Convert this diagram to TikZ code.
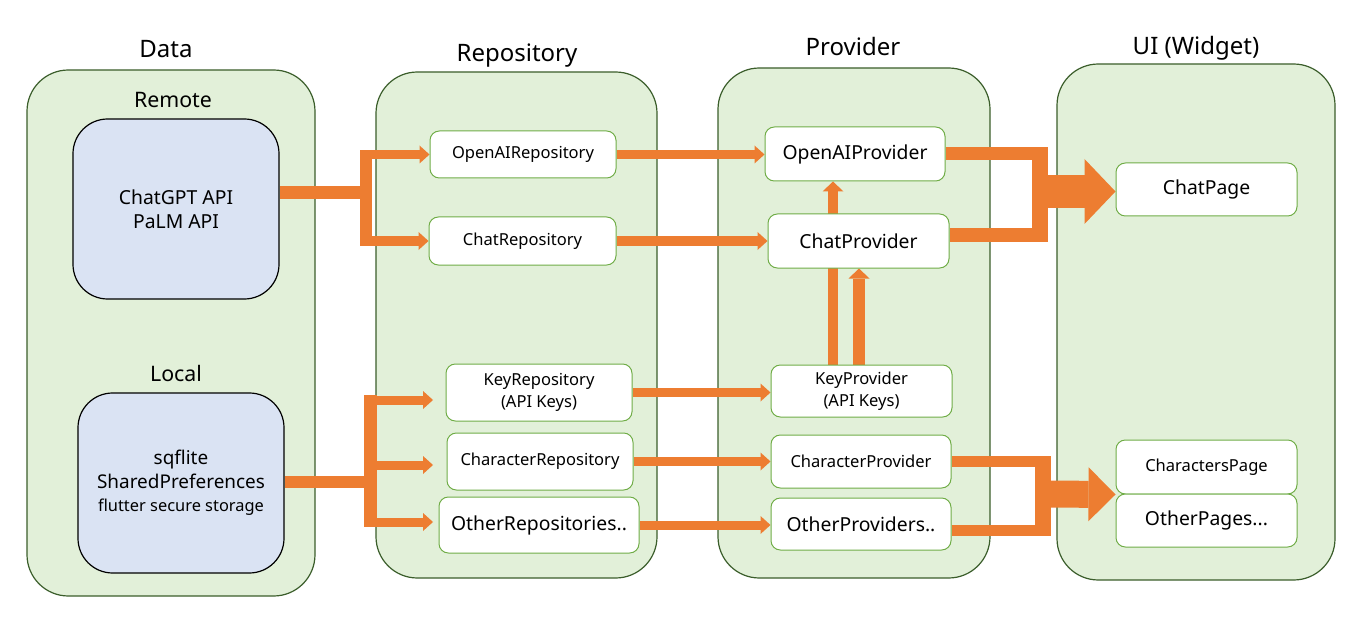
\documentclass[tikz,border=0pt]{standalone}
\usepackage{fontspec}
\setmainfont{Noto Sans}
\usetikzlibrary{arrows.meta,calc}
\definecolor{orng}{HTML}{ED7D31}
\definecolor{colfill}{HTML}{E2F0D9}
\definecolor{coldraw}{HTML}{3B5E2B}
\definecolor{bluefill}{HTML}{DAE3F3}
\definecolor{boxdraw}{HTML}{70AD47}
\pgfdeclarelayer{back}
\pgfdeclarelayer{mid}
\pgfsetlayers{back,mid,main}
\tikzset{
  column/.style={draw=coldraw, fill=colfill, line width=0.9pt, rounded corners=31pt, inner sep=0pt},
  title/.style={anchor=base, font=\fontsize{18}{22}\selectfont},
  subtitle/.style={anchor=base, font=\fontsize{16}{20}\selectfont},
  srcbox/.style={draw=black, fill=bluefill, line width=0.9pt, rounded corners=26pt, minimum width=154.5pt, minimum height=135pt, align=center, inner sep=0pt},
  wbox/.style={draw=boxdraw, fill=white, line width=0.75pt, rounded corners=7pt, align=center, inner sep=0pt},
  small/.style={font=\fontsize{12.4}{16.5}\selectfont},
  medium/.style={font=\fontsize{14.5}{18}\selectfont},
  bar/.style={draw=orng, color=orng},
  arr/.style={color=orng, line width=6.75pt, -{Triangle[length=7.5pt,width=13.5pt,line width=0pt]}},
  uparr/.style={color=orng, -{Triangle[length=7.5pt,width=15.75pt,line width=0pt]}},
}
\begin{document}
\begin{tikzpicture}[x=0.75pt,y=-0.75pt]
\useasboundingbox (0,0) rectangle (1364,624);

% columns
\begin{pgfonlayer}{back}
\node[column, minimum width=216pt, minimum height=394.5pt] (dataCol) at (171,333) {};
\node[column, minimum width=210.75pt, minimum height=379.5pt] (repoCol) at (516.5,325) {};
\node[column, minimum width=204pt, minimum height=382.5pt] (provCol) at (854,323) {};
\node[column, minimum width=208.5pt, minimum height=387pt] (uiCol) at (1196,322) {};
\end{pgfonlayer}

% titles
\node[title] (tData) at (166,58) {Data};
\node[title] (tRepo) at (517,62) {Repository};
\node[title] (tProv) at (853,56) {Provider};
\node[title] (tUI) at (1196,55) {UI (Widget)};
\node[subtitle] (tRemote) at (173,108) {Remote};
\node[subtitle] (tLocal) at (176,381) {Local};

% data sources
\node[srcbox, medium] (remote) at (176,209) {ChatGPT API\\PaLM API};
\node[srcbox, font=\fontsize{14.2}{17.5}\selectfont] (local) at (181,483)
  {sqflite\\SharedPreferences\\{\fontsize{12.3}{16}\selectfont flutter secure storage}};

% repositories
\node[wbox, small, minimum width=139.5pt, minimum height=35.25pt] (openaiRepo) at (523,154.5) {OpenAIRepository};
\node[wbox, small, minimum width=140.25pt, minimum height=36pt] (chatRepo) at (522.5,241) {ChatRepository};
\node[wbox, small, minimum width=139.5pt, minimum height=42.75pt] (keyRepo) at (539,392.5) {KeyRepository\\(API Keys)};
\node[wbox, small, minimum width=139.5pt, minimum height=42.75pt] (charRepo) at (540,461.5) {CharacterRepository};
\node[wbox, medium, minimum width=150pt, minimum height=42pt] (otherRepo) at (539,525) {OtherRepositories..};

% providers
\node[wbox, medium, minimum width=135pt, minimum height=40.5pt] (openaiProv) at (855,154) {OpenAIProvider};
\node[wbox, medium, minimum width=135.75pt, minimum height=40.5pt] (chatProv) at (858.5,241) {ChatProvider};
\node[wbox, small, minimum width=135.75pt, minimum height=39pt] (keyProv) at (861.5,391) {KeyProvider\\(API Keys)};
\node[wbox, small, minimum width=135pt, minimum height=39.75pt] (charProv) at (861,461.5) {CharacterProvider};
\node[wbox, medium, minimum width=135pt, minimum height=39pt] (otherProv) at (861,524) {OtherProviders..};

% UI
\node[wbox, medium, minimum width=135.75pt, minimum height=39.75pt] (chatPage) at (1206.5,189.5) {ChatPage};
\node[wbox, small, minimum width=135.75pt, minimum height=40.5pt] (charsPage) at (1206.5,467) {CharactersPage};
\node[wbox, medium, minimum width=135.75pt, minimum height=39.75pt] (otherPages) at (1206.5,520.5) {OtherPages...};

% connectors
\begin{pgfonlayer}{mid}
% remote fan-out
\coordinate (rj) at (366,193);
\draw[bar, line width=9.75pt] (remote.east |- rj) -- (rj);
\draw[bar, line width=9pt, shorten <=-3.4pt, shorten >=-3.4pt] (rj |- openaiRepo) -- (rj |- chatRepo);
\draw[arr] (rj |- openaiRepo) -- (openaiRepo.west);
\draw[arr] (rj |- chatRepo) -- (chatRepo.west);
% local fan-out
\coordinate (lj) at (370,482);
\coordinate (lk) at (433,400);
\coordinate (lc) at (433,465);
\coordinate (lo) at (433,522);
\draw[bar, line width=8.6pt] (local.east |- lj) -- (lj);
\draw[bar, line width=9.75pt, shorten <=-3.4pt, shorten >=-3.4pt] (lj |- lk) -- (lj |- lo);
\draw[arr] (lj |- lk) -- (lk);
\draw[arr] (lj |- lc) -- (lc);
\draw[arr] (lj |- lo) -- (lo);
% repository -> provider
\draw[arr] (openaiRepo.east) -- (openaiRepo.east -| openaiProv.west);
\draw[arr] (chatRepo.east) -- (chatRepo.east -| chatProv.west);
\draw[arr] (keyRepo.east) -- (keyRepo.east -| keyProv.west);
\draw[arr] (charRepo.east) -- (charRepo.east -| charProv.west);
\draw[arr] (otherRepo.east) -- (otherRepo.east -| otherProv.west);
% key provider -> chat / openai providers
\coordinate (kl) at ($(keyProv.north)+(-28.5,0)$);
\coordinate (kr) at ($(keyProv.north)+(-2.5,0)$);
\draw[uparr, line width=7.5pt] (kl) -- (kl |- openaiProv.south);
\draw[uparr, line width=8.5pt] (kr) -- (kr |- chatProv.south);
% providers -> ChatPage
\coordinate (mt) at (1040,191.5);
\coordinate (cpo) at ($(chatProv.east)+(0,-6)$);
\draw[bar, line width=9.75pt, shorten >=-6pt] (openaiProv.east) -- (openaiProv.east -| mt);
\draw[bar, line width=10.5pt, shorten >=-6pt] (cpo) -- (cpo -| mt);
\draw[bar, line width=12pt, shorten <=-4.9pt, shorten >=-5.2pt] (mt |- openaiProv.east) -- (mt |- cpo);
\draw[color=orng, line width=24.75pt, -{Triangle[length=23.25pt,width=48.75pt,line width=0pt]}] (mt) -- (mt -| chatPage.west);
% providers -> CharactersPage / OtherPages
\coordinate (mb) at (1043,494);
\coordinate (opo) at ($(otherProv.east)+(0,6.5)$);
\draw[bar, line width=8.25pt, shorten >=-6pt] (charProv.east) -- (charProv.east -| mb);
\draw[bar, line width=8.25pt, shorten >=-6pt] (opo) -- (opo -| mb);
\draw[bar, line width=12pt, shorten <=-4.1pt, shorten >=-4.1pt] (mb |- charProv.east) -- (mb |- opo);
\draw[color=orng, line width=20.25pt, -{Triangle[length=20.25pt,width=40.5pt,line width=0pt]}] (mb) -- (charsPage.south west);
\end{pgfonlayer}
\end{tikzpicture}
\end{document}
